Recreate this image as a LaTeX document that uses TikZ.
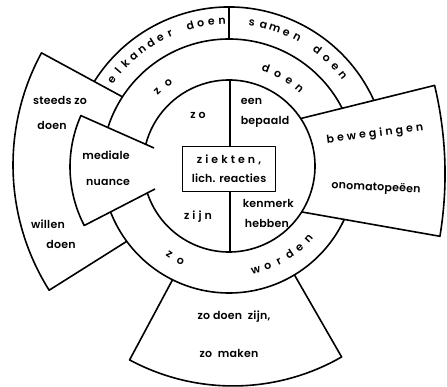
\documentclass[tikz,border=0pt]{standalone}
\usepackage{fontspec}
\setmainfont{Poppins}[UprightFont=* SemiBold, LetterSpace=2]
\newfontfamily\spacedfont{Poppins}[UprightFont=* SemiBold, LetterSpace=28]

\begin{document}
\begin{tikzpicture}[x=1pt, y=1pt, line width=1.6pt, line join=round,
  wedge/.style={draw, fill=white},
  lbl/.style={inner sep=0pt},
  spaced/.style={font=\spacedfont},
  arcletter/.style={inner sep=0pt, anchor=base, text height=5pt, text depth=0pt}]
\fontsize{11}{13.2}\selectfont
\useasboundingbox (-229,-221) rectangle (218,166);

\draw[wedge] (0,0) -- (20:159) arc[start angle=20, end angle=155, radius=159] -- cycle;
\draw[wedge] (19,1) -- ++(151.5:235) arc[start angle=151.5, end angle=212.2, radius=235] -- cycle;
\draw[wedge] (-116.4:127) -- (-99.4,-193.9) arc[start angle=-118.3, end angle=-60.1, radius=218] -- (-59:127);
\draw[fill=white] (0,0) circle[radius=127];
\draw[wedge] (33.5:86) -- (205.6,80.6) arc[start angle=13.45, end angle=-9.41, radius=381] -- (-32.3:86);
\draw[wedge] (-75,18) -- (-148.1,50.4) arc[start angle=156.1, end angle=207.4, radius=127] -- (-74,-23);
\draw (-161.7:86) arc[start angle=-161.7, end angle=165.5, radius=86];

\coordinate (mtop) at (90:127);
\coordinate (otop) at (90:159);
\coordinate (itop) at (1,86);
\coordinate (ibot) at (1,-86);
\draw (mtop) -- (otop);

\node[draw, minimum width=93pt, minimum height=45pt, align=center] (kern) at (0,-3)
  {{\spacedfont ziekten,}\\[6pt]lich. reacties};
\draw (itop) -- (itop |- kern.north);
\draw (ibot) -- (ibot |- kern.south);

% letters along the rings
\foreach \ch [count=\i from 0] in {e,l,k,a,n,d,e,r,{},d,o,e,n}
  \node[arcletter, rotate={53.7-4.25*\i}] at ({143.7-4.25*\i}:142) {\ch};
\foreach \ch [count=\i from 0] in {s,a,m,e,n,{},d,o,e,n}
  \node[arcletter, rotate={-9-4.73*\i}] at ({81-4.73*\i}:142) {\ch};
\foreach \ch [count=\i from 0] in {z,o}
  \node[arcletter, rotate={44-8*\i}] at ({134-8*\i}:100) {\ch};
\foreach \ch [count=\i from 0] in {d,o,e,n}
  \node[arcletter, rotate={-20.7-7.2*\i}] at ({69.3-7.2*\i}:101) {\ch};
\foreach \ch [count=\i from 0] in {z,o}
  \node[arcletter, rotate={-34+7*\i}] at ({-124+7*\i}:110) {\ch};
\foreach \ch [count=\i from 0] in {w,o,r,d,e,n}
  \node[arcletter, rotate={14.4+6.64*\i}] at ({-75.6+6.64*\i}:111) {\ch};

\node[lbl] (steeds) at (-169,66) {steeds zo};
\node[lbl] (steedsdoen) at (-177,41) {doen};
\node[lbl] (willen) at (-181,-58) {willen};
\node[lbl] (willendoen) at (-168,-78) {doen};
\node[lbl] (mediale) at (-123,11) {mediale};
\node[lbl] (nuance) at (-121,-16) {nuance};
\node[lbl, spaced] (zoin) at (-31,51) {zo};
\node[lbl, spaced] (zijn) at (-31,-51) {zijn};
\node[lbl, anchor=west] (een) at (11,65) {een};
\node[lbl, anchor=west] (bepaald) at (11,44) {bepaald};
\node[lbl, anchor=west] (kenmerk) at (13,-37) {kenmerk};
\node[lbl, anchor=west] (hebben) at (15,-57) {hebben};
\node[lbl, spaced, rotate=7.5] (beweg) at (146,32) {bewegingen};
\node[lbl, rotate=-3] (onomat) at (147,-22) {onomatopeëen};
\node[lbl] (zodoen) at (5,-151) {zo doen\ \ zijn,};
\node[lbl] (zomaken) at (0,-187) {zo\ \ maken};
\end{tikzpicture}
\end{document}
